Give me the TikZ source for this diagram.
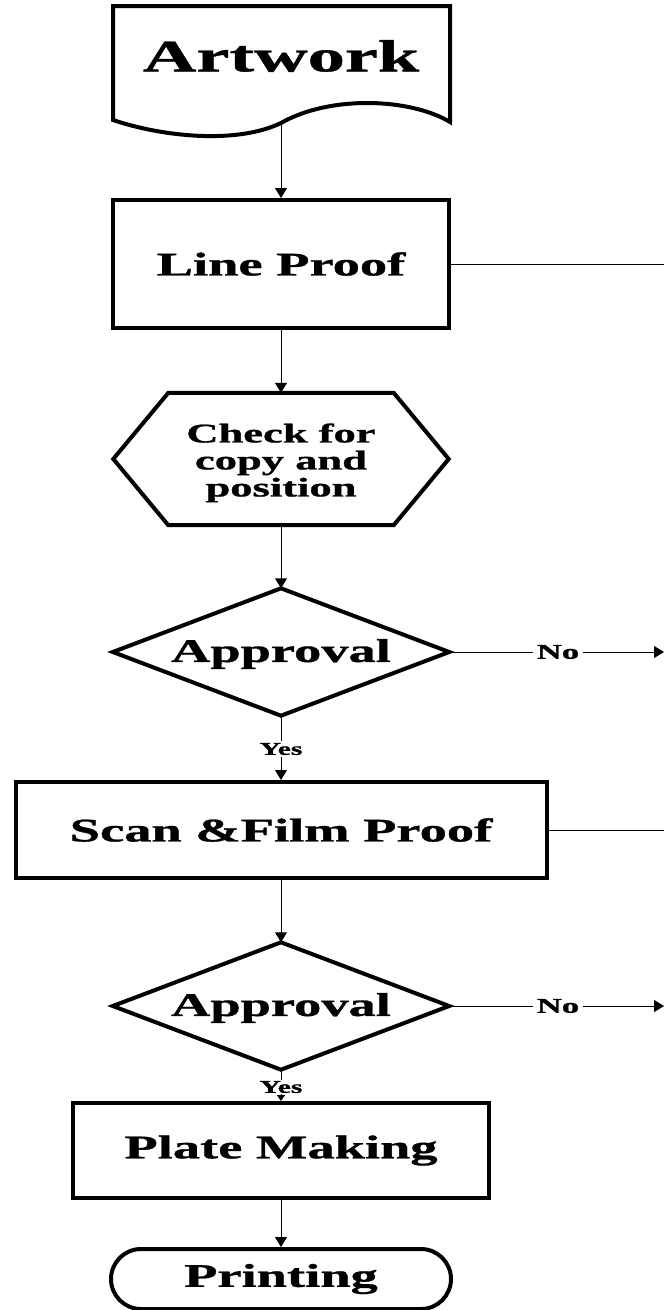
\documentclass[tikz,border=0pt]{standalone}
\usepackage{fontspec}
\setmainfont{Liberation Serif}[BoldFeatures={FakeBold=0.8}]
\usetikzlibrary{arrows.meta,calc}
\newcommand{\wdx}[1]{\scalebox{1.65}[1]{#1}}
\begin{document}
\begin{tikzpicture}[x=1pt,y=-1pt,
  box/.style={draw,line width=4pt,inner sep=0pt,font=\bfseries\fontsize{33}{36}\selectfont},
  dbox/.style={inner sep=0pt,minimum width=336pt,minimum height=127pt},
  dtxt/.style={inner sep=0pt,font=\bfseries\fontsize{33}{36}\selectfont},
  shp/.style={line width=4pt},
  lbl/.style={inner sep=2pt,font=\bfseries\fontsize{18}{20}\selectfont},
  nolbl/.style={inner sep=4pt,font=\bfseries\fontsize{21}{23}\selectfont},
  ln/.style={line width=1pt},
  conn/.style={line width=1pt,-{Triangle[length=10pt,width=12pt]}},
  sconn/.style={line width=1pt,-{Triangle[length=6pt,width=8pt]}}]
\useasboundingbox (0,0) rectangle (664,1310);
% Artwork (document shape)
\draw[shp] (113,6) -- (450,6) -- (450,122)
  .. controls (410,98) and (330,95) .. (281,123)
  .. controls (235,145) and (160,136) .. (113,120) -- cycle;
\coordinate (artb) at (281,123);
\node[inner sep=0pt,font=\bfseries\fontsize{45}{50}\selectfont] (art) at (281,56) {\wdx{Artwork}};
% Line Proof
\node[box,minimum width=336pt,minimum height=128pt] (lp) at (281,264) {\wdx{Line Proof}};
\coordinate (r1) at (664,264);
% Check hexagon
\node[inner sep=0pt,minimum width=225pt,minimum height=132pt] (chk) at (281,459) {};
\draw[shp] (chk.north west) -- (chk.north east) -- ($(chk.east)+(55,0)$)
  -- (chk.south east) -- (chk.south west) -- ($(chk.west)+(-55,0)$) -- cycle;
\node[inner sep=0pt,font=\bfseries\fontsize{27}{27}\selectfont] (chkt) at (281,464)
  {\wdx{\begin{tabular}{@{}c@{}}Check for\\copy and\\position\end{tabular}}};
% Approval 1
\node[dbox] (ap1) at (281,652) {};
\draw[shp] (ap1.north) -- (ap1.east) -- (ap1.south) -- (ap1.west) -- cycle;
\node[dtxt] (ap1t) at (281,654) {\wdx{Approval}};
\node[nolbl] (no1) at (558,652) {\wdx{No}};
\coordinate (e1) at (664,652);
\node[lbl] (yes1) at (281,749) {\wdx{Yes}};
% Scan & Film Proof
\node[box,minimum width=531pt,minimum height=96pt] (sf) at (281,830) {\wdx{Scan \&Film Proof}};
\coordinate (r2) at (664,830);
% Approval 2
\node[dbox] (ap2) at (281,1006) {};
\draw[shp] (ap2.north) -- (ap2.east) -- (ap2.south) -- (ap2.west) -- cycle;
\node[dtxt] (ap2t) at (281,1008) {\wdx{Approval}};
\node[nolbl] (no2) at (558,1006) {\wdx{No}};
\coordinate (e2) at (664,1006);
\node[lbl,inner sep=1pt] (yes2) at (281,1087) {\wdx{Yes}};
% Plate Making
\node[box,minimum width=416pt,minimum height=95pt] (pm) at (281,1150.5) {\wdx{Plate Making}};
% Printing
\node[box,rounded corners=30pt,minimum width=340pt,minimum height=60pt] (pr) at (281,1279) {\wdx{Printing}};
% connectors
\draw[conn] (artb) -- (lp.north);
\draw[ln] (lp.east) -- (r1);
\draw[conn] (lp.south) -- (chk.north);
\draw[conn] (chk.south) -- (ap1.north);
\draw[ln] (ap1.east) -- (no1.west);
\draw[conn] (no1.east) -- (e1);
\draw[ln] (ap1.south) -- (yes1.north);
\draw[conn] (yes1.south) -- (sf.north);
\draw[ln] (sf.east) -- (r2);
\draw[conn] (sf.south) -- (ap2.north);
\draw[ln] (ap2.east) -- (no2.west);
\draw[conn] (no2.east) -- (e2);
\draw[ln] (ap2.south) -- (yes2.north);
\draw[sconn] (yes2.south) -- (pm.north);
\draw[conn] (pm.south) -- (pr.north);
\end{tikzpicture}
\end{document}
